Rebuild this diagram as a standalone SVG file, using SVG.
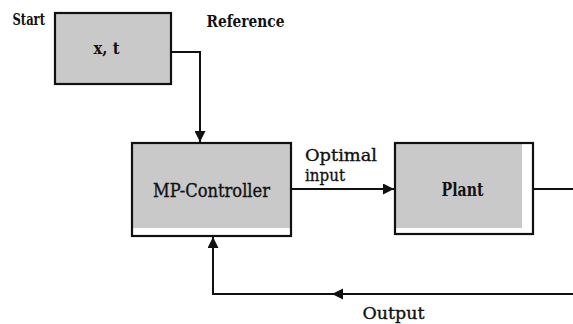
<svg xmlns="http://www.w3.org/2000/svg" width="573" height="324" viewBox="0 0 573 324">
<style>
.box{fill:none;stroke:#111;stroke-width:2.2}
.fill{fill:#c9c9c9}
.t{font-family:'DejaVu Serif','Liberation Serif',serif;fill:#111}
.b{font-weight:bold}
.n{font-weight:normal;stroke:#111;stroke-width:0.35}
.ln{fill:none;stroke:#111;stroke-width:2}
</style>
<defs>
<marker id="ah" viewBox="0 0 10 10" refX="10" refY="5" markerWidth="11" markerHeight="11" markerUnits="userSpaceOnUse" orient="auto">
<path d="M0,0 L10,5 L0,10 Z" fill="#111"/>
</marker>
</defs>
<rect width="573" height="324" fill="#fff"/>
<g id="connectors">
<path class="ln" d="M171,52 H200 V142" marker-end="url(#ah)"/>
<path class="ln" d="M291,189 H394" marker-end="url(#ah)"/>
<path class="ln" d="M533,189 H573"/>
<path class="ln" d="M573,294 H213 V237" marker-end="url(#ah)"/>
<path d="M343,288.5 L332,294 L343,299.5 Z" fill="#111"/>
</g>
<g id="start">
<text class="t b" x="12.5" y="24.5" font-size="16" textLength="32.5" lengthAdjust="spacingAndGlyphs">Start</text>
</g>
<g id="reference">
<text class="t b" x="206.5" y="26.5" font-size="17" textLength="78" lengthAdjust="spacingAndGlyphs">Reference</text>
</g>
<g id="xt">
<rect class="fill" x="56" y="14" width="114" height="69"/>
<rect class="box" x="55" y="13" width="116" height="71"/>
<text class="t b" x="93.5" y="53.5" font-size="16" textLength="26" lengthAdjust="spacingAndGlyphs">x, t</text>
</g>
<g id="controller">
<rect class="fill" x="133" y="144" width="157" height="84"/>
<rect class="box" x="132" y="143" width="159" height="93"/>
<text class="t n" x="153" y="197" font-size="18.5" textLength="117" lengthAdjust="spacingAndGlyphs">MP-Controller</text>
</g>
<g id="optimal-input">
<text class="t n" x="305" y="160.5" font-size="17.5" textLength="72" lengthAdjust="spacingAndGlyphs">Optimal</text>
<text class="t n" x="305" y="180.5" font-size="17.5" textLength="40" lengthAdjust="spacingAndGlyphs">input</text>
</g>
<g id="plant">
<rect class="fill" x="396" y="144" width="126" height="84"/>
<rect class="box" x="395" y="143" width="138" height="91"/>
<text class="t b" x="441.5" y="196" font-size="19" textLength="42" lengthAdjust="spacingAndGlyphs">Plant</text>
</g>
<g id="output">
<text class="t n" x="362.5" y="318.5" font-size="16.5" textLength="62" lengthAdjust="spacingAndGlyphs">Output</text>
</g>
</svg>
